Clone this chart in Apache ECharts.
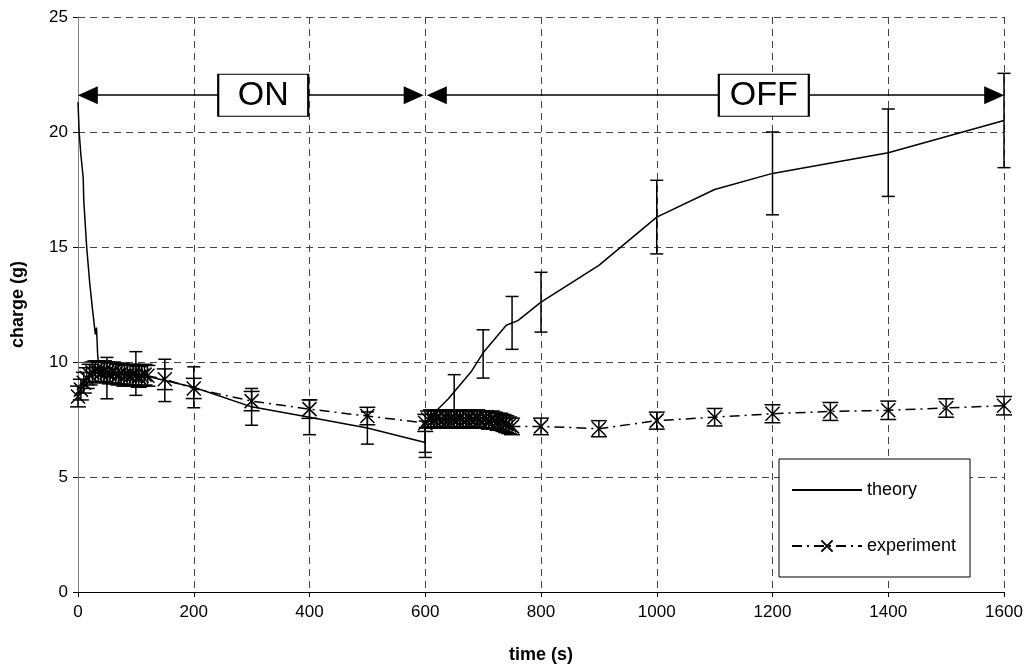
<!DOCTYPE html>
<html>
<head>
<meta charset="utf-8">
<script src="https://cdn.jsdelivr.net/npm/echarts@6/dist/echarts.min.js"></script>
<style>html,body{margin:0;padding:0;background:#fff}#c{width:1029px;height:670px}</style>
</head>
<body>
<div id="c"></div>
<script>
// ---- data ----
const xTicks = [0, 200, 400, 600, 800, 1000, 1200, 1400, 1600];
const yTicks = [0, 5, 10, 15, 20, 25];

const theoryT = [0, 2, 5, 9, 10, 15, 20, 25, 30, 32, 34, 36, 40, 50, 75, 100, 150, 200, 300, 400, 500, 600,
  600, 620, 640, 660, 680, 700, 720, 740, 760, 800, 900, 1000, 1100, 1200, 1400, 1600];
const theoryV = [21.3, 20.0, 19.0, 18.0, 17.0, 15.0, 13.5, 12.3, 11.2, 11.5, 10.3, 9.8, 9.6, 9.4, 9.5, 9.5, 9.2, 8.9, 8.05, 7.6, 7.13, 6.5,
  7.3, 7.9, 8.4, 9.0, 9.6, 10.4, 11.0, 11.6, 11.8, 12.6, 14.2, 16.3, 17.5, 18.2, 19.1, 20.5];

const theoryErrT = [50, 100, 150, 200, 300, 400, 500, 600, 600, 650, 700, 750, 800, 1000, 1200, 1400, 1600];
const theoryErrV = [9.3, 9.5, 9.2, 8.9, 8.05, 7.6, 7.13, 6.5, 6.75, 8.55, 10.35, 11.7, 12.6, 16.3, 18.2, 19.1, 20.5];
const theoryErrD = [0.9, 0.95, 0.92, 0.89, 0.8, 0.76, 0.7, 0.65, 0.68, 0.9, 1.05, 1.15, 1.3, 1.6, 1.8, 1.9, 2.05];

const expT = [0, 5, 10, 15, 20, 25, 30, 35, 40, 45, 50, 55, 60, 65, 70, 75, 80, 85, 90, 95, 100, 105, 110, 115, 120,
  150, 200, 300, 400, 500,
  600, 605, 610, 615, 620, 625, 630, 635, 640, 645, 650, 655, 660, 665, 670, 675, 680, 685, 690, 695, 700,
  705, 710, 715, 720, 725, 730, 735, 740, 745, 750,
  800, 900, 1000, 1100, 1200, 1300, 1400, 1500, 1600];
const expV = [8.5, 8.8, 9.1, 9.3, 9.45, 9.55, 9.6, 9.6, 9.55, 9.6, 9.55, 9.5, 9.55, 9.5, 9.45, 9.5, 9.4, 9.45, 9.4, 9.45, 9.4, 9.35, 9.4, 9.45, 9.4,
  9.25, 8.85, 8.3, 7.95, 7.65,
  7.35, 7.5, 7.55, 7.5, 7.55, 7.5, 7.5, 7.55, 7.5, 7.55, 7.5, 7.5, 7.55, 7.5, 7.5, 7.55, 7.5, 7.5, 7.55, 7.5, 7.5,
  7.5, 7.45, 7.5, 7.45, 7.4, 7.4, 7.35, 7.3, 7.25, 7.2,
  7.2, 7.1, 7.45, 7.6, 7.75, 7.85, 7.9, 8.0, 8.1];
const expErr = [0.45, 0.45, 0.45, 0.45, 0.45, 0.45, 0.45, 0.45, 0.45, 0.45, 0.45, 0.45, 0.45, 0.45, 0.45, 0.45, 0.45, 0.45, 0.45, 0.45, 0.45, 0.45, 0.45, 0.45, 0.45,
  0.45, 0.44, 0.42, 0.4, 0.38,
  0.37, 0.37, 0.37, 0.37, 0.37, 0.37, 0.37, 0.37, 0.37, 0.37, 0.37, 0.37, 0.37, 0.37, 0.37, 0.37, 0.37, 0.37, 0.37, 0.37, 0.37,
  0.37, 0.37, 0.37, 0.37, 0.37, 0.37, 0.37, 0.37, 0.36, 0.36,
  0.36, 0.35, 0.37, 0.38, 0.39, 0.39, 0.4, 0.4, 0.4];

const phaseNames = ['ON', 'OFF'];
const phaseArrowFrom = [17, 620];
const phaseArrowTo = [580, 1583];
const phaseLabelX = [320, 1185];
const arrowY = 21.6;

// ---- build ----
const theoryData = theoryT.map((t, i) => [t, theoryV[i]]);
const theoryErrData = theoryErrT.map((t, i) => [t, theoryErrV[i] - theoryErrD[i], theoryErrV[i] + theoryErrD[i]]);
const expData = expT.map((t, i) => [t, expV[i]]);
const expErrData = expT.map((t, i) => [t, expV[i] - expErr[i], expV[i] + expErr[i]]);

function errRender(capHalf) {
  return function (params, api) {
    const x = api.value(0);
    const lo = api.coord([x, api.value(1)]);
    const hi = api.coord([x, api.value(2)]);
    const st = { stroke: '#000', lineWidth: 1.5 };
    return {
      type: 'group',
      children: [
        { type: 'line', shape: { x1: lo[0], y1: lo[1], x2: hi[0], y2: hi[1] }, style: st },
        { type: 'line', shape: { x1: lo[0] - capHalf, y1: lo[1], x2: lo[0] + capHalf, y2: lo[1] }, style: st },
        { type: 'line', shape: { x1: hi[0] - capHalf, y1: hi[1], x2: hi[0] + capHalf, y2: hi[1] }, style: st }
      ]
    };
  };
}

const FONT = '"Liberation Sans", Arial, sans-serif';
const chart = echarts.init(document.getElementById('c'), null, { renderer: 'canvas' });

const option = {
  animation: false,
  backgroundColor: '#fff',
  textStyle: { fontFamily: FONT },
  grid: { left: 78, right: 25, top: 17, bottom: 78, containLabel: false },
  xAxis: {
    type: 'value', min: xTicks[0], max: xTicks[xTicks.length - 1], interval: 200,
    name: 'time (s)', nameLocation: 'middle', nameGap: 54,
    nameTextStyle: { fontFamily: FONT, fontWeight: 'bold', fontSize: 18, color: '#000' },
    axisLine: { show: true, onZero: false, lineStyle: { color: '#000', width: 1 } },
    axisTick: { show: true, inside: false, length: 5, lineStyle: { color: '#000' } },
    axisLabel: { fontFamily: FONT, fontSize: 17, color: '#000', margin: 12, formatter: v => String(v) },
    splitLine: { show: true, lineStyle: { color: '#444', type: [7, 5], width: 1 } }
  },
  yAxis: {
    type: 'value', min: yTicks[0], max: yTicks[yTicks.length - 1], interval: 5,
    name: 'charge (g)', nameLocation: 'middle', nameGap: 51,
    nameTextStyle: { fontFamily: FONT, fontWeight: 'bold', fontSize: 18, color: '#000' },
    axisLine: { show: true, lineStyle: { color: '#808080', width: 1 } },
    axisTick: { show: true, inside: false, length: 5, lineStyle: { color: '#000' } },
    axisLabel: { fontFamily: FONT, fontSize: 17, color: '#000', margin: 10, formatter: v => String(v) },
    splitLine: { show: true, lineStyle: { color: '#444', type: [7, 5], width: 1 } }
  },
  legend: {
    orient: 'vertical', left: 779, top: 459,
    padding: [22, 14, 22, 12], itemGap: 38, itemWidth: 70, itemHeight: 14,
    backgroundColor: '#fff', borderColor: '#000', borderWidth: 1,
    textStyle: { fontFamily: FONT, fontSize: 18, color: '#000' },
    data: [{ name: 'theory', itemStyle: { opacity: 0 } }, 'experiment']
  },
  series: [
    {
      name: 'theory', type: 'line', data: theoryData, symbol: 'none', z: 3,
      lineStyle: { color: '#000', width: 1.5 }, itemStyle: { color: '#000' },
      markLine: {
        silent: true, z: 8, symbol: ['triangle', 'triangle'], symbolSize: [18, 20],
        label: { show: false },
        lineStyle: { color: '#000', width: 1.5, type: 'solid' },
        data: phaseNames.map((n, i) => [
          { coord: [phaseArrowFrom[i], arrowY] },
          { coord: [phaseArrowTo[i], arrowY] }
        ])
      },
      markPoint: {
        silent: true, z: 10, symbol: 'rect', symbolSize: [90, 42],
        itemStyle: { color: '#fff', borderColor: '#000', borderWidth: 1.5 },
        label: { show: true, position: 'inside', fontFamily: FONT, fontSize: 34, color: '#000', formatter: p => p.name },
        data: phaseNames.map((n, i) => ({ name: n, coord: [phaseLabelX[i], arrowY] }))
      }
    },
    {
      name: 'theoryErr', type: 'custom', renderItem: errRender(6.5), data: theoryErrData, z: 3, silent: true,
      encode: { x: 0, y: [1, 2] }
    },
    {
      name: 'experiment', type: 'line', data: expData, z: 4,
      symbol: 'path://M0,0L10,10M10,0L0,10', symbolSize: 14, showAllSymbol: true,
      lineStyle: { color: '#000', width: 1.5, type: [10, 5, 2, 5] },
      itemStyle: { color: 'rgba(0,0,0,0)', borderColor: '#000', borderWidth: 1.5 }
    },
    {
      name: 'expErr', type: 'custom', renderItem: errRender(8), data: expErrData, z: 4, silent: true,
      encode: { x: 0, y: [1, 2] }
    }
  ]
};
chart.setOption(option);
</script>
</body>
</html>
